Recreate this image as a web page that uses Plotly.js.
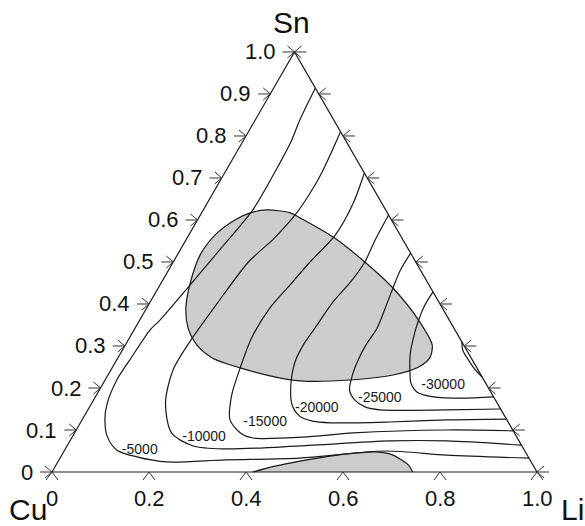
<!DOCTYPE html>
<html>
<head>
<meta charset="utf-8">
<script src="https://cdn.plot.ly/plotly-3.0.1.min.js"></script>
<style>
  html, body { margin: 0; padding: 0; background: #fff; }
  #plot { width: 585px; height: 526px; }
</style>
</head>
<body>
<div id="plot"></div>
<script>
// Cu–Li–Sn ternary: iso-lines of the mixing enthalpy (J/mol) and two shaded phase regions.
// Every composition below is given as [x(Li), x(Sn)]; x(Cu) = 1 - x(Li) - x(Sn).

const vertexNames = ["Cu", "Li", "Sn"];
const snTicks = [0, 0.1, 0.2, 0.3, 0.4, 0.5, 0.6, 0.7, 0.8, 0.9, 1.0];
const snTickText = ["0", "0.1", "0.2", "0.3", "0.4", "0.5", "0.6", "0.7", "0.8", "0.9", "1.0"];
const liTicks = [0, 0.2, 0.4, 0.6, 0.8, 1.0];
const liTickText = ["0", "0.2", "0.4", "0.6", "0.8", "1.0"];

const levels = [-5000, -10000, -15000, -20000, -25000, -30000, -35000];
const levelText = ["-5000", "-10000", "-15000", "-20000", "-25000", "-30000", ""];

const iso5000 = [[0.086,0.914],[0.092,0.838],[0.100,0.783],[0.102,0.736],[0.102,0.624],[0.083,0.536],
  [0.062,0.445],[0.042,0.362],[0.033,0.338],[0.027,0.267],[0.024,0.219],[0.033,0.160],[0.047,0.124],
  [0.073,0.083],[0.108,0.052],[0.157,0.036],[0.225,0.024],[0.343,0.029],[0.494,0.033],[0.662,0.050],
  [0.794,0.040],[0.967,0.033]];
const iso10000 = [[0.190,0.810],[0.200,0.712],[0.200,0.660],[0.196,0.617],[0.180,0.557],[0.155,0.500],
  [0.140,0.402],[0.130,0.321],[0.128,0.243],[0.152,0.164],[0.200,0.093],[0.260,0.062],[0.330,0.055],
  [0.480,0.062],[0.660,0.074],[0.777,0.074],[0.936,0.064]];
const iso15000 = [[0.288,0.712],[0.301,0.640],[0.302,0.564],[0.282,0.500],[0.268,0.445],[0.254,0.390],
  [0.252,0.319],[0.264,0.248],[0.279,0.183],[0.305,0.124],[0.342,0.093],[0.374,0.081],[0.476,0.083],
  [0.575,0.093],[0.764,0.100],[0.902,0.098]];
const iso20000 = [[0.388,0.612],[0.390,0.552],[0.395,0.500],[0.389,0.450],[0.377,0.405],[0.371,0.343],
  [0.367,0.302],[0.370,0.262],[0.389,0.207],[0.415,0.160],[0.444,0.133],[0.477,0.121],[0.515,0.117],
  [0.637,0.119],[0.752,0.124],[0.874,0.126]];
const iso25000 = [[0.479,0.521],[0.478,0.481],[0.484,0.438],[0.492,0.390],[0.499,0.343],[0.496,0.302],
  [0.498,0.267],[0.504,0.231],[0.516,0.195],[0.539,0.171],[0.568,0.155],[0.602,0.148],[0.740,0.148],
  [0.850,0.150]];
const iso30000 = [[0.571,0.429],[0.570,0.398],[0.576,0.357],[0.587,0.314],[0.599,0.279],[0.619,0.238],
  [0.634,0.212],[0.658,0.190],[0.697,0.179],[0.757,0.176],[0.821,0.179]];
const iso35000 = [[0.690,0.310],[0.702,0.290],[0.725,0.267],[0.749,0.245],[0.774,0.226]];

// shaded regions
const regionUpper = [[0.131,0.624],[0.183,0.617],[0.209,0.605],[0.299,0.560],[0.395,0.500],[0.484,0.438],
  [0.580,0.357],[0.633,0.302],[0.643,0.271],[0.629,0.248],[0.588,0.231],[0.505,0.219],[0.403,0.217],
  [0.335,0.229],[0.264,0.248],[0.196,0.271],[0.148,0.302],[0.109,0.343],[0.081,0.390],[0.060,0.450],
  [0.047,0.517],[0.054,0.564],[0.077,0.600],[0.100,0.617],[0.131,0.624]];
const regionLower = [[0.414,0],[0.453,0.014],[0.498,0.026],[0.554,0.038],[0.602,0.045],[0.642,0.048],
  [0.675,0.043],[0.702,0.031],[0.726,0.017],[0.744,0]];

// where each level's value is written
const labelSpots = [[0.155,0.052],[0.273,0.081],[0.381,0.117],[0.470,0.152],[0.588,0.176],[0.704,0.205]];

// ---- drawing ----
const H = Math.sqrt(3) / 2;
const PX = 1 / 485;                       // one screen pixel in plot units
const tx = (p) => p[0] + p[1] / 2;        // composition -> plane
const ty = (p) => p[1] * H;

const INK = "#1a1a1a";
const GREY = "#cccccc";
const traces = [];

function addCurve(pts, opts) {
  traces.push(Object.assign({
    type: "scatter", mode: "lines",
    x: pts.map(tx), y: pts.map(ty),
    line: { color: INK, width: 1.2, shape: "spline", smoothing: 0.8 },
    hoverinfo: "skip", showlegend: false
  }, opts || {}));
}

addCurve(regionUpper, { fill: "toself", fillcolor: GREY });
addCurve(regionLower, { fill: "toself", fillcolor: GREY });

[iso5000, iso10000, iso15000, iso20000, iso25000, iso30000, iso35000].forEach(c => addCurve(c));

// triangle frame
const corners = [[0, 0], [1, 0], [0, 1], [0, 0]];
traces.push({
  type: "scatter", mode: "lines",
  x: corners.map(tx), y: corners.map(ty),
  line: { color: INK, width: 1.2 }, hoverinfo: "skip", showlegend: false
});

// arrow-style tick marks
const tkx = [], tky = [];
function seg(pts) { pts.forEach(p => { tkx.push(p[0]); tky.push(p[1]); }); tkx.push(null); tky.push(null); }
snTicks.forEach(s => {
  const lx = tx([0, s]), rx = tx([1 - s, s]), y = ty([0, s]);
  seg([[lx - 12 * PX, y], [lx, y]]);
  seg([[lx - 7 * PX, y + 6 * PX], [lx, y], [lx - 7 * PX, y - 6 * PX]]);
  seg([[rx + 12 * PX, y], [rx, y]]);
  seg([[rx + 7 * PX, y + 6 * PX], [rx, y], [rx + 7 * PX, y - 6 * PX]]);
});
liTicks.forEach(l => {
  const x = tx([l, 0]);
  seg([[x - 6 * PX, -8 * PX], [x, 0], [x + 6 * PX, -8 * PX]]);
});
traces.push({
  type: "scatter", mode: "lines", x: tkx, y: tky,
  line: { color: "#333", width: 1 }, hoverinfo: "skip", showlegend: false
});

// level labels
traces.push({
  type: "scatter", mode: "text",
  x: labelSpots.map(tx), y: labelSpots.map(ty),
  text: levelText.slice(0, labelSpots.length),
  textposition: "middle center",
  textfont: { family: "Liberation Sans, Arial, sans-serif", size: 14, color: INK },
  hoverinfo: "skip", showlegend: false
});

const annotations = [];
const tickFont = { family: "Liberation Sans, Arial, sans-serif", size: 22, color: "#111" };
snTicks.forEach((s, i) => {
  annotations.push({
    x: tx([0, s]) - 17 * PX, y: ty([0, s]), xref: "x", yref: "y",
    text: snTickText[i], showarrow: false, xanchor: "right", yanchor: "middle", font: tickFont
  });
});
liTicks.forEach((l, i) => {
  annotations.push({
    x: tx([l, 0]), y: -26 * PX, xref: "x", yref: "y",
    text: liTickText[i], showarrow: false, xanchor: "center", yanchor: "middle", font: tickFont
  });
});
const vFont = { family: "Liberation Sans, Arial, sans-serif", size: 30, color: "#111" };
annotations.push({ x: tx([0, 0]) - 24 * PX, y: -37 * PX, xref: "x", yref: "y", text: vertexNames[0],
  showarrow: false, xanchor: "center", yanchor: "middle", font: vFont });
annotations.push({ x: tx([1, 0]) + 35 * PX, y: -37 * PX, xref: "x", yref: "y", text: vertexNames[1],
  showarrow: false, xanchor: "center", yanchor: "middle", font: vFont });
annotations.push({ x: tx([0, 1]) - 3.5 * PX, y: ty([0, 1]) + 29 * PX, xref: "x", yref: "y", text: vertexNames[2],
  showarrow: false, xanchor: "center", yanchor: "middle", font: vFont });

const layout = {
  width: 585, height: 526,
  margin: { l: 0, r: 0, t: 0, b: 0 },
  paper_bgcolor: "#fff", plot_bgcolor: "#fff",
  xaxis: { range: [-52 * PX, 533 * PX], visible: false, fixedrange: true },
  yaxis: { range: [-54 * PX, 472 * PX], visible: false, fixedrange: true },
  annotations: annotations,
  showlegend: false
};

Plotly.newPlot("plot", traces, layout, { displayModeBar: false, staticPlot: true });
</script>
</body>
</html>
